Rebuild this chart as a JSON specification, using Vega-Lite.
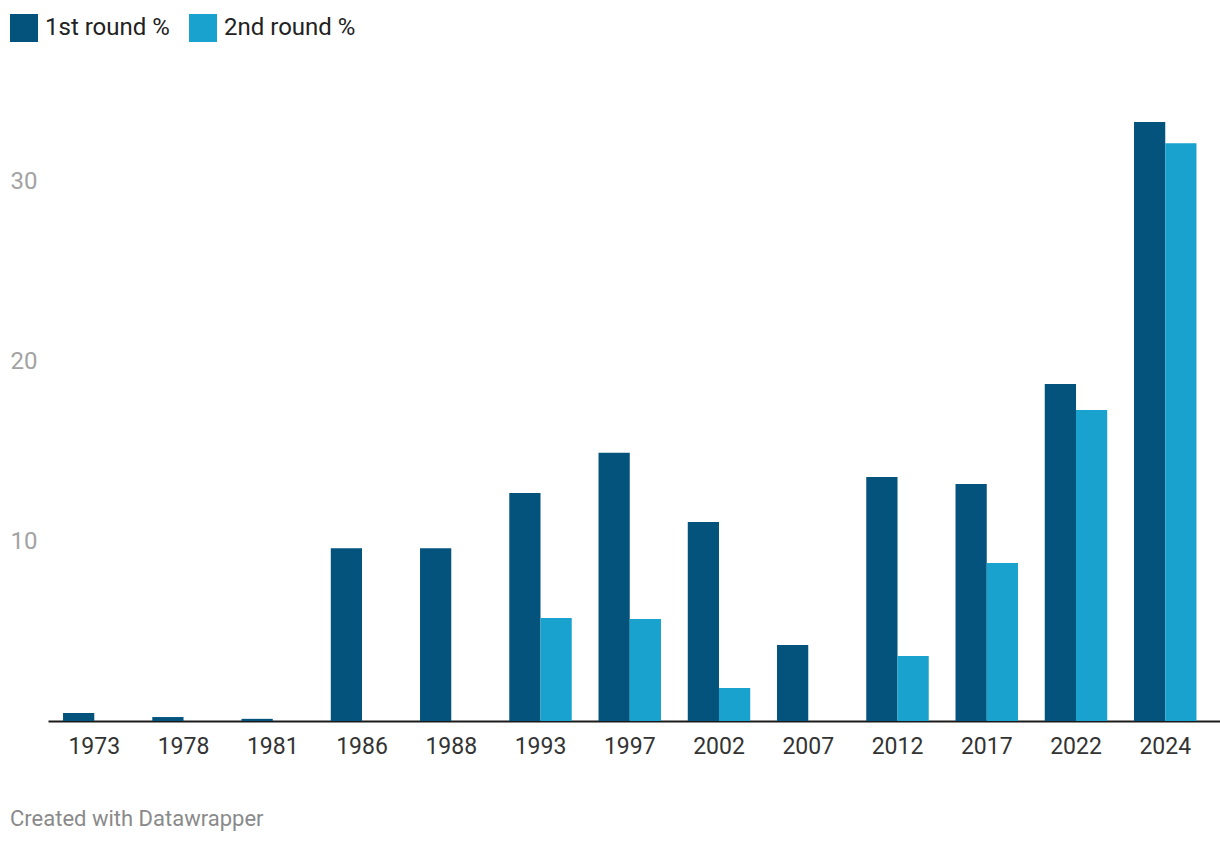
{
  "$schema": "https://vega.github.io/schema/vega-lite/v6.json",
  "width": 1172,
  "height": 630,
  "padding": {"left": 48, "top": 91, "right": 0, "bottom": 123},
  "autosize": {"type": "none"},
  "background": "white",
  "config": {
    "font": "Roboto",
    "view": {"stroke": null}
  },
  "title": {
    "text": "Created with Datawrapper",
    "orient": "bottom",
    "anchor": "start",
    "frame": "bounds",
    "font": "Roboto",
    "fontSize": 22,
    "fontWeight": "normal",
    "color": "#8a8a8a",
    "offset": 51,
    "dx": 0
  },
  "data": {
    "values": [
      {"year": "1973", "round": "1st round %", "value": 0.45},
      {"year": "1978", "round": "1st round %", "value": 0.22},
      {"year": "1981", "round": "1st round %", "value": 0.12},
      {"year": "1986", "round": "1st round %", "value": 9.6},
      {"year": "1988", "round": "1st round %", "value": 9.6},
      {"year": "1993", "round": "1st round %", "value": 12.67},
      {"year": "1993", "round": "2nd round %", "value": 5.72},
      {"year": "1997", "round": "1st round %", "value": 14.9},
      {"year": "1997", "round": "2nd round %", "value": 5.67},
      {"year": "2002", "round": "1st round %", "value": 11.06},
      {"year": "2002", "round": "2nd round %", "value": 1.83},
      {"year": "2007", "round": "1st round %", "value": 4.22},
      {"year": "2012", "round": "1st round %", "value": 13.56},
      {"year": "2012", "round": "2nd round %", "value": 3.61},
      {"year": "2017", "round": "1st round %", "value": 13.17},
      {"year": "2017", "round": "2nd round %", "value": 8.78},
      {"year": "2022", "round": "1st round %", "value": 18.72},
      {"year": "2022", "round": "2nd round %", "value": 17.28},
      {"year": "2024", "round": "1st round %", "value": 33.28},
      {"year": "2024", "round": "2nd round %", "value": 32.1}
    ]
  },
  "mark": {"type": "bar"},
  "encoding": {
    "x": {
      "field": "year",
      "type": "nominal",
      "sort": null,
      "scale": {"paddingInner": 0.3, "paddingOuter": 0.216, "align": 0.39},
      "axis": {
        "title": null,
        "labelAngle": 0,
        "labelFontSize": 23,
        "labelColor": "#333333",
        "labelPadding": 14,
        "ticks": false,
        "domainColor": "#1a1a1a",
        "domainWidth": 2,
        "grid": false
      }
    },
    "xOffset": {"field": "round", "type": "nominal", "scale": {"paddingInner": 0, "paddingOuter": 0}},
    "y": {
      "field": "value",
      "type": "quantitative",
      "scale": {"domain": [0, 35], "nice": false},
      "axis": {
        "title": null,
        "values": [10, 20, 30],
        "labelAlign": "left",
        "labelPadding": 38,
        "labelFontSize": 24,
        "labelColor": "#a3a3a3",
        "labelBaseline": "middle",
        "ticks": false,
        "domain": false,
        "grid": false
      }
    },
    "color": {
      "field": "round",
      "type": "nominal",
      "scale": {"domain": ["1st round %", "2nd round %"], "range": ["#03537d", "#1aa2cf"]},
      "legend": {
        "title": null,
        "orient": "none",
        "direction": "horizontal",
        "legendX": -38,
        "legendY": -77,
        "symbolType": "square",
        "symbolSize": 784,
        "symbolStrokeWidth": 0,
        "symbolOpacity": 1,
        "labelFontSize": 24,
        "labelColor": "#222222",
        "labelOffset": 7,
        "columnPadding": 19,
        "padding": 0
      }
    }
  }
}
